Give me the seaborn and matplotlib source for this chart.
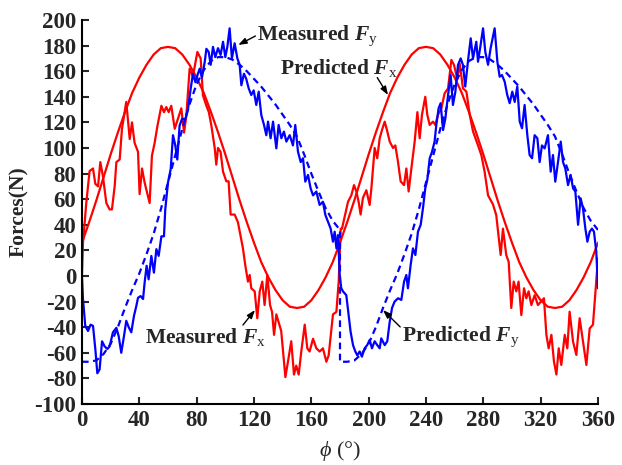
import numpy as np
import pandas as pd
import matplotlib
matplotlib.use("Agg")
import matplotlib.pyplot as plt
import seaborn as sns

# ---------------- data ----------------
phi_pred = list(range(0, 361, 5))
fx_pred = [26, 42, 59, 77, 95, 112, 128, 143, 155, 165, 173, 178, 179, 178, 173, 165, 155, 143,
           128, 112, 95, 77, 59, 42, 26, 11, -1, -11, -19, -24, -25, -24, -19, -11, -1, 11, 26,
           42, 59, 77, 95, 112, 128, 143, 155, 165, 173, 178, 179, 178, 173, 165, 155, 143,
           128, 112, 95, 77, 59, 42, 26, 11, -1, -11, -19, -24, -25, -24, -19, -11, -1, 11, 26]

phi_fy_pred = list(range(0, 181, 5)) + [180] + list(range(185, 361, 5))
fy_pred = [-67, -67, -66, -61, -53, -40, -25, -11, 2, 17, 33, 52, 73, 94, 115, 134, 150, 161, 168,
           171, 171, 169, 165, 160, 154, 148, 141, 134, 126, 118, 109, 95, 80, 66, 53, 43, 36,
           -67,
           -67, -66, -61, -53, -40, -25, -11, 2, 17, 33, 52, 73, 94, 115, 134, 150, 161, 168,
           171, 171, 169, 165, 160, 154, 148, 141, 134, 126, 118, 109, 95, 80, 66, 53, 43, 36]

phi_mfx = [0, 0.7, 3, 5.3, 7.7, 9.3, 11.2, 12.8, 14.6, 17, 19.3, 20.9, 22.8, 24, 26.3, 27.9, 30.9,
           33.3, 34.9, 36.7, 39.1, 40.2, 41.9, 43.7, 47.2, 48.8, 50.7, 52.6, 55.4, 57.2, 58.8,
           60.5, 62.3, 64.7, 67, 69.3, 71.2, 72.8, 75.1, 77.4, 80.5, 82.8, 84.4, 86.8, 88.5,
           90.2, 92.6, 93.7, 94.9, 96.7, 98.4, 100.7, 102.3, 103.7, 106.5, 108.8, 112.3, 113.9,
           115.8, 117, 118.1, 120.5, 122.3, 124, 125.8, 127.4, 129.3, 131.2, 132.6, 134, 135.6,
           139, 141.9, 143.7, 146, 147.9, 149.5, 151.2, 153, 155.4, 157.2, 158.8, 161.2, 163.5,
           165.8, 168.1, 170.5, 172.1, 175.1, 177.5, 179.1, 180.5,
           181.4, 185.6, 187.9, 189.8, 191.4, 193, 194.4, 196, 198.4, 200.7, 201.9, 204.2, 206,
           207.7, 209.3, 211.2, 213, 214.7, 217, 218.6, 220.5, 222.3, 224.7, 226.3, 227.9, 229.8,
           232.1, 234, 235.6, 237.2, 239.5, 240.9, 242.6, 244.9, 246.5, 248.4, 250.7, 253, 255.4,
           257.7, 259.5, 261.9, 263.5, 265.8, 268.2, 270.5, 272.8, 276.3, 278.6, 280.9, 283.3,
           286.7, 289, 292.1, 293.7, 296, 297.7, 299.5, 301.2, 303, 304.6, 306.5, 308.4, 310,
           311.6, 313.5, 315.8, 318.1, 322.3, 324, 325.6, 327.5, 329.3, 331, 332.6, 334.4, 336.8,
           338.6, 340.2, 342.6, 344.9, 347.2, 349.5, 351.9, 354.2, 356.5, 358.8, 360]
mfx = [0, 26, 57, 82, 84, 72, 70, 89, 78, 57, 52, 52, 70, 89, 91, 115, 136,
       107, 120, 104, 97, 64, 84, 73, 57, 94, 104, 117, 133, 128, 132,
       128, 133, 115, 123, 131, 112, 125, 162, 156, 175, 170, 141, 133, 128,
       118, 100, 87, 100, 97, 81.5, 74, 74, 48, 48, 42, 21.6, 8.6,
       -4.4, 0.8, -9.6, -12, -33, -12, -4.4, -22.7, 0.8, -22.7, -28, -46, -30,
       -43, -79, -67, -51, -77, -70, -77, -59, -38, -56.5, -59, -49, -56.5,
       -59, -56.5, -67, -62, -30, -28, -4.4, 37,
       37, 58, 63, 71, 66, 58, 48, 61, 67, 55.5, 68.5, 100, 92,
       107.6, 114, 120.6, 113, 105, 100, 102, 89, 74, 71, 84, 66, 84,
       105, 128, 107.6, 126, 140, 126, 118, 120.6, 118, 126, 131, 142.7, 146.6,
       168.8, 165, 154, 166, 146.6, 144, 126, 113, 102, 94.5, 81.5, 63,
       56, 47.7, 16.4, 37, 16.4, 11, -25, -4.4, -12, -4.4, -30.5, -9.6, -17.4,
       -12, -22.7, -15, -22.7, -17.4, -46, -56.5, -46, -67, -77, -56.5, -69.5, -46,
       -56.5, -27.9, -51.3, -61.7, -33, -51, -69.5, -41, -38, -4.4, 14]

phi_mfy = [0, 0.7, 2.3, 4.2, 6, 7.7, 9.3, 10.7, 12.3, 14, 15.8, 17.7, 19.3, 21.6, 24, 25.6, 27.4,
           29.3, 30.9, 32.6, 34.4, 36.3, 37.9, 39.1, 40.9, 42.6, 43.7, 45.1, 46.5, 48.4, 50.2,
           51.9, 53.5, 55.4, 57.2, 58.1, 60, 61.9, 63.5, 65.1, 66.5, 68.1, 69.8, 72.1, 74, 75.8,
           77.4, 79.1, 80.5, 82.1, 83.7, 85.6, 86.8, 88.4, 89.8, 91.4, 93, 94.9, 96.7, 98.4, 100,
           101.4, 103, 104.6, 106.5, 108.4, 110, 111.2, 113, 114.6, 116.3, 118.1, 119.8, 121.6,
           123.3, 125.1, 127, 128.6, 129.8, 131.6, 133.3, 135.6, 137.2, 139.1, 140.9, 142.6,
           144.9, 147.2, 148.8, 150.7, 152.6, 154.2, 155.8, 157.7, 159.5, 161.2, 163.5, 165.8,
           168.1, 169.8, 171.6, 173.5, 175.1, 176.3, 177.5, 178.6, 179.8, 180.9,
           182.1, 184.4, 186, 187.4, 189.1, 190.7, 192.1, 193.7, 195.3, 197.2, 199, 200.7, 202.3,
           204.2, 206, 207.7, 208.8, 211.2, 213, 214.7, 216.3, 218.1, 220.5, 222.8, 224.7, 226.3,
           227.4, 229.3, 230.9, 232.6, 234.4, 236.3, 237.9, 239.5, 240.9, 242.6, 244.2, 246,
           247.2, 248.8, 250.2, 251.9, 253.5, 255.4, 257.2, 258.8, 260.5, 262.3, 264.2, 265.8,
           267.4, 269.3, 271.2, 272.8, 275.1, 276.3, 278.1, 279.8, 281.4, 283.3, 285.1, 287.9,
           289.8, 291.4, 293, 294.9, 296.7, 298.4, 300.2, 301.9, 303.7, 305.4, 307, 308.8, 310.7,
           312.3, 314, 315.8, 317.7, 319.3, 320.9, 322.8, 325.1, 327, 328.6, 330.2, 332.1, 334,
           335.6, 337.2, 339.1, 340.9, 342.6, 344.2, 346.1, 347.9, 349.5, 351.2, 352.6, 354.2,
           355.8, 357.2, 358.8, 360]
mfy = [0, -18, -39, -43, -38, -39, -57, -76, -73, -51, -55, -57, -55, -44, -40.5, -47, -60,
       -47, -35, -40, -44, -31, -23.5, -17, -15.7, -18, -5.2, 8, -2.6, 15.7, 2.6,
       21, 15.7, 31, 31, 52, 73, 83.6, 110, 102, 91, 117.5, 122.7, 122.7, 130.5, 146,
       158, 151.4, 156.7, 162, 155, 167, 177.5, 175, 165, 179, 171, 178, 172.7, 183, 171,
       179, 193.5, 170, 181.8, 170, 165, 149, 158, 154, 146.6, 141.4, 145, 133.6,
       144, 125.8, 118, 110, 120.6, 107.6, 120.6, 99.7, 118, 107.6, 112.8, 105,
       110, 102, 118, 97, 89, 92, 73.7, 79, 68.5, 63, 66, 55.5,
       58, 47.7, 42.4, 37, 26.8, 34.6, 21.6, 32, 0.8, -9.6,
       -12, -15, -30.5, -43.5, -54, -59, -62, -59, -63, -56.5, -54, -50, -56.5,
       -51, -54, -56.5, -48.7, -54, -51, -35.7, -25, -20, -17.4, -18.7, -4.4, 0.8,
       -9.6, 8.6, 21.6, 16.4, 34.6, 40, 53, 68.5, 75, 92, 97, 105,
       118, 131, 135, 114, 123, 141.4, 157, 133.6, 144, 164.8, 170, 164.8,
       148, 168, 185.7, 170, 183, 167.4, 180.5, 193.5, 175, 165, 178, 193.5,
       167.4, 155.7, 157, 151.8, 141.4, 135, 144, 136, 148, 120.6, 115.4, 133.6, 110,
       94.5, 92, 110, 107.6, 89, 102, 99.7, 110, 81.5, 94.5, 73.7, 89, 105,
       89, 84, 71, 79, 68.5, 66, 40, 60.7, 53, 37, 26.8, 34.6,
       37, 34.6, 19, -9.6]

x_ticks = list(range(0, 361, 40))
y_ticks = list(range(-100, 201, 20))

# ---------------- style ----------------
sns.set_style("ticks")
plt.rcParams['font.family'] = ['Liberation Serif', 'DejaVu Serif']
plt.rcParams['axes.unicode_minus'] = False
plt.rcParams['mathtext.fontset'] = 'custom'
plt.rcParams['mathtext.rm'] = 'Liberation Serif'
plt.rcParams['mathtext.it'] = 'Liberation Serif:italic'
plt.rcParams['mathtext.bf'] = 'Liberation Serif:bold'
plt.rcParams['mathtext.bfit'] = 'Liberation Serif:italic:bold'

fig = plt.figure(figsize=(6.22, 4.65), dpi=100)
ax = fig.add_axes([0.1318, 0.1312, 0.8296, 0.8258])

RED = '#ff0000'
BLUE = '#0000ff'
LW = 1.6

sns.lineplot(x=phi_pred, y=fx_pred, ax=ax, color=RED, lw=LW, estimator=None, sort=False)
sns.lineplot(x=phi_mfx, y=mfx, ax=ax, color=RED, lw=LW, estimator=None, sort=False)
sns.lineplot(x=phi_fy_pred, y=fy_pred, ax=ax, color=BLUE, lw=LW, estimator=None, sort=False,
             dashes=False)
ax.lines[-1].set_dashes((3, 2))
sns.lineplot(x=phi_mfy, y=mfy, ax=ax, color=BLUE, lw=LW, estimator=None, sort=False)

ax.set_xlim(0, 360)
ax.set_ylim(-100, 200)
ax.set_xticks(x_ticks)
ax.set_yticks(y_ticks)
ax.tick_params(direction='in', length=5, width=1.5, labelsize=16.5, pad=4)
for lab in ax.get_xticklabels() + ax.get_yticklabels():
    lab.set_fontweight('bold')
for s in ['top', 'right']:
    ax.spines[s].set_visible(False)
for s in ['left', 'bottom']:
    ax.spines[s].set_linewidth(1.5)
    ax.spines[s].set_color('black')

ax.set_ylabel('Forces(N)', fontsize=15.5, fontweight='bold', labelpad=4)
ax.set_xlabel(r'$\phi$ (°)', fontsize=16, labelpad=6)

ann_fs = 15.5
arrow_kw = dict(arrowstyle='-|>,head_length=0.5,head_width=0.18', color='black', lw=1.0,
                shrinkA=0, shrinkB=0)

ax.text(122, 188, r'Measured $\mathbfit{F}_{\mathrm{y}}$', fontsize=ann_fs, fontweight='bold',
        ha='left', va='center')
ax.annotate('', xy=(109, 180.5), xytext=(121, 187.5), arrowprops=arrow_kw)

ax.text(138, 162.5, r'Predicted $\mathbfit{F}_{\mathrm{x}}$', fontsize=ann_fs, fontweight='bold',
        ha='left', va='center')
ax.annotate('', xy=(213.5, 141.4), xytext=(206, 155), arrowprops=arrow_kw)

ax.text(44, -47.6, r'Measured $\mathbfit{F}_{\mathrm{x}}$', fontsize=ann_fs, fontweight='bold',
        ha='left', va='center')
ax.annotate('', xy=(120.7, -26.6), xytext=(112.3, -38.3), arrowprops=arrow_kw)

ax.text(223, -47.6, r'Predicted $\mathbfit{F}_{\mathrm{y}}$', fontsize=ann_fs, fontweight='bold',
        ha='left', va='center')
ax.annotate('', xy=(210, -26.6), xytext=(222, -39.8), arrowprops=arrow_kw)

fig.savefig('out.png', dpi=100)
